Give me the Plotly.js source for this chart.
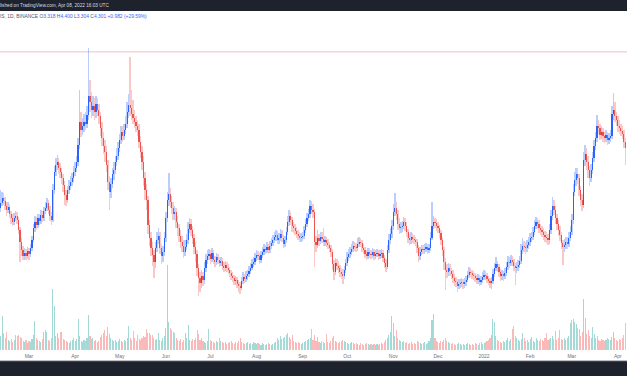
<!DOCTYPE html>
<html><head><meta charset="utf-8">
<script src="https://cdn.plot.ly/plotly-3.0.1.min.js"></script>
<style>html,body{margin:0;padding:0;background:#fff;overflow:hidden}#chart{width:627px;height:376px}</style>
</head><body><div id="chart"></div>
<script>
const startDate = '2021-02-10';
const openPrices = [
2.74,2.79,2.84,2.81,2.76,2.72,2.75,2.68,2.64,2.60,
2.64,2.66,2.62,2.52,2.40,2.32,2.26,2.29,2.26,2.31,
2.28,2.34,2.42,2.54,2.60,2.57,2.64,2.61,2.67,2.64,
2.71,2.74,2.79,2.72,2.66,2.62,2.92,3.10,3.17,3.20,
3.14,3.10,3.04,2.97,2.87,2.82,2.92,2.96,3.00,3.04,
3.10,3.14,3.20,3.37,3.60,3.52,3.56,3.60,3.58,3.67,
3.86,3.80,3.72,3.76,3.70,3.78,3.72,3.66,3.54,3.44,
3.36,3.30,3.17,3.00,2.90,2.98,3.08,3.12,3.20,3.26,
3.34,3.42,3.50,3.46,3.52,3.58,3.70,3.77,3.74,3.68,
3.64,3.60,3.56,3.52,3.40,3.30,3.20,3.04,2.92,2.82,
2.57,2.44,2.34,2.27,2.20,2.34,2.42,2.46,2.34,2.26,
2.30,2.44,2.64,2.82,2.88,2.80,2.74,2.68,2.70,2.60,
2.54,2.46,2.40,2.36,2.30,2.35,2.42,2.53,2.58,2.52,
2.44,2.35,2.28,2.14,2.04,1.99,2.06,2.02,2.14,2.22,
2.26,2.28,2.23,2.29,2.22,2.20,2.25,2.22,2.19,2.21,
2.16,2.14,2.17,2.14,2.12,2.09,2.06,2.04,2.01,2.02,
1.98,1.96,1.94,2.01,2.05,2.03,2.06,2.08,2.11,2.14,
2.18,2.20,2.24,2.27,2.26,2.22,2.27,2.30,2.33,2.32,
2.35,2.32,2.36,2.39,2.42,2.45,2.47,2.42,2.44,2.48,
2.44,2.38,2.42,2.50,2.60,2.66,2.62,2.56,2.54,2.51,
2.48,2.46,2.44,2.45,2.46,2.52,2.58,2.64,2.68,2.76,
2.72,2.70,2.40,2.37,2.44,2.41,2.45,2.43,2.40,2.42,
2.39,2.37,2.34,2.30,2.18,2.10,2.19,2.16,2.14,2.10,
2.08,2.06,2.12,2.19,2.25,2.28,2.30,2.33,2.36,2.35,
2.34,2.38,2.40,2.39,2.34,2.32,2.28,2.26,2.30,2.28,
2.27,2.30,2.26,2.28,2.29,2.26,2.28,2.29,2.24,2.19,
2.15,2.32,2.42,2.48,2.56,2.70,2.74,2.68,2.58,2.54,
2.55,2.56,2.60,2.56,2.50,2.44,2.42,2.45,2.43,2.42,
2.40,2.34,2.26,2.30,2.33,2.32,2.33,2.35,2.32,2.34,
2.44,2.56,2.60,2.59,2.56,2.54,2.49,2.42,2.32,2.20,
2.12,2.10,2.14,2.11,2.08,2.04,2.01,2.00,1.96,1.98,
1.99,2.00,1.98,2.00,2.02,2.07,2.10,2.09,2.07,2.06,
2.04,2.02,2.04,2.00,2.02,2.05,2.07,2.06,2.03,2.01,
1.99,2.01,2.08,2.14,2.18,2.15,2.10,2.06,2.08,2.06,
2.09,2.15,2.20,2.19,2.22,2.20,2.16,2.14,2.15,2.17,
2.21,2.32,2.36,2.35,2.34,2.37,2.40,2.44,2.45,2.50,
2.56,2.60,2.58,2.54,2.52,2.50,2.47,2.45,2.44,2.42,
2.52,2.66,2.76,2.72,2.64,2.58,2.52,2.47,2.39,2.35,
2.37,2.40,2.38,2.44,2.50,2.62,2.90,3.02,3.08,3.04,
2.92,2.82,2.77,3.22,3.28,3.20,3.12,3.04,3.12,3.24,
3.36,3.44,3.56,3.54,3.47,3.50,3.46,3.44,3.47,3.42,
3.44,3.46,3.68,3.72,3.66,3.62,3.56,3.54,3.51,3.48,3.40];
const highPrices = [
2.92,2.90,2.89,2.85,2.80,2.80,2.78,2.71,2.68,2.69,
2.71,2.70,2.65,2.55,2.44,2.36,2.34,2.33,2.35,2.34,
2.38,2.46,2.58,2.66,2.65,2.68,2.68,2.72,2.71,2.75,
2.80,2.84,2.82,2.76,2.70,2.98,3.16,3.24,3.27,3.24,
3.19,3.14,3.08,3.01,2.92,2.96,3.02,3.06,3.09,3.16,
3.20,3.26,3.44,3.92,3.70,3.64,3.68,3.70,3.76,4.34,
4.02,3.90,3.86,3.84,3.86,3.84,3.78,3.70,3.60,3.50,
3.42,3.36,3.22,3.06,3.04,3.14,3.20,3.26,3.34,3.40,
3.48,3.56,3.56,3.58,3.66,3.80,3.88,4.25,3.92,3.82,
3.72,3.66,3.62,3.58,3.46,3.36,3.26,3.10,2.98,2.86,
2.62,2.50,2.40,2.32,2.40,2.50,2.54,2.50,2.38,2.36,
2.50,2.70,2.90,3.09,2.94,2.86,2.80,2.76,2.74,2.66,
2.58,2.52,2.46,2.42,2.42,2.48,2.60,2.64,2.63,2.56,
2.48,2.40,2.32,2.18,2.10,2.12,2.10,2.20,2.28,2.32,
2.33,2.32,2.34,2.32,2.26,2.29,2.28,2.25,2.25,2.24,
2.20,2.21,2.20,2.18,2.15,2.12,2.10,2.07,2.06,2.05,
2.02,2.00,2.05,2.10,2.08,2.11,2.12,2.16,2.19,2.23,
2.25,2.29,2.32,2.31,2.29,2.31,2.35,2.38,2.37,2.40,
2.38,2.41,2.44,2.47,2.50,2.52,2.51,2.49,2.53,2.52,
2.47,2.46,2.55,2.66,2.72,2.70,2.65,2.60,2.58,2.55,
2.52,2.50,2.49,2.50,2.56,2.63,2.69,2.73,2.82,2.81,
2.78,2.73,2.46,2.52,2.48,2.50,2.50,2.54,2.46,2.45,
2.43,2.40,2.37,2.33,2.22,2.24,2.23,2.21,2.17,2.14,
2.13,2.16,2.23,2.30,2.33,2.35,2.38,2.41,2.40,2.39,
2.44,2.45,2.44,2.42,2.38,2.35,2.32,2.34,2.34,2.32,
2.34,2.33,2.32,2.33,2.32,2.32,2.33,2.32,2.27,2.23,
2.37,2.48,2.54,2.62,2.78,2.89,2.80,2.72,2.64,2.60,
2.61,2.65,2.64,2.60,2.53,2.48,2.50,2.49,2.47,2.45,
2.43,2.37,2.35,2.37,2.37,2.38,2.39,2.38,2.38,2.50,
2.80,2.66,2.64,2.63,2.60,2.57,2.52,2.45,2.35,2.24,
2.18,2.19,2.18,2.14,2.12,2.08,2.05,2.03,2.03,2.03,
2.04,2.03,2.04,2.06,2.11,2.15,2.14,2.12,2.11,2.09,
2.07,2.08,2.07,2.06,2.10,2.12,2.11,2.09,2.06,2.04,
2.05,2.13,2.19,2.25,2.21,2.18,2.13,2.12,2.11,2.14,
2.20,2.26,2.25,2.27,2.26,2.23,2.19,2.20,2.22,2.26,
2.38,2.44,2.41,2.40,2.42,2.45,2.49,2.50,2.55,2.62,
2.65,2.64,2.62,2.58,2.56,2.54,2.51,2.50,2.48,2.58,
2.72,2.85,2.82,2.76,2.68,2.62,2.56,2.50,2.42,2.43,
2.45,2.45,2.50,2.56,2.68,2.98,3.10,3.14,3.14,3.08,
2.96,2.88,3.30,3.37,3.34,3.26,3.16,3.18,3.30,3.42,
3.50,3.67,3.62,3.58,3.56,3.54,3.50,3.52,3.50,3.49,
3.52,3.76,3.89,3.80,3.70,3.66,3.62,3.58,3.56,3.52,3.44];
const lowPrices = [
2.70,2.76,2.77,2.72,2.66,2.69,2.64,2.58,2.56,2.57,
2.61,2.58,2.48,2.20,2.26,2.22,2.22,2.22,2.23,2.22,
2.25,2.31,2.40,2.50,2.52,2.54,2.57,2.58,2.60,2.61,
2.68,2.71,2.68,2.61,2.57,2.60,2.88,3.06,3.12,3.08,
3.04,2.98,2.90,2.77,2.76,2.79,2.88,2.92,2.96,3.00,
3.06,3.10,3.16,3.33,3.45,3.47,3.50,3.52,3.54,3.62,
3.70,3.64,3.66,3.62,3.64,3.66,3.58,3.46,3.36,3.28,
3.20,3.10,2.92,2.72,2.84,2.94,3.02,3.08,3.16,3.22,
3.30,3.38,3.40,3.42,3.48,3.54,3.64,3.66,3.62,3.58,
3.54,3.50,3.46,3.34,3.24,3.12,2.96,2.82,2.72,2.48,
2.36,2.26,2.16,2.04,2.14,2.30,2.38,2.28,2.18,2.20,
2.26,2.40,2.60,2.76,2.74,2.68,2.62,2.62,2.54,2.46,
2.40,2.34,2.30,2.24,2.26,2.32,2.38,2.49,2.46,2.38,
2.28,2.20,2.06,1.86,1.90,1.94,1.96,1.98,2.10,2.18,
2.22,2.18,2.20,2.18,2.15,2.17,2.18,2.15,2.16,2.12,
2.10,2.11,2.10,2.08,2.05,2.02,2.00,1.97,1.97,1.94,
1.90,1.88,1.92,1.98,1.99,2.00,2.02,2.05,2.08,2.12,
2.15,2.17,2.21,2.22,2.18,2.19,2.24,2.27,2.28,2.29,
2.28,2.29,2.33,2.36,2.39,2.41,2.38,2.38,2.41,2.40,
2.34,2.35,2.39,2.47,2.56,2.57,2.50,2.49,2.47,2.44,
2.42,2.40,2.40,2.41,2.43,2.49,2.55,2.61,2.64,2.68,
2.64,2.15,2.30,2.34,2.36,2.38,2.39,2.36,2.36,2.35,
2.33,2.30,2.25,2.12,2.02,2.07,2.12,2.09,2.05,2.03,
1.98,2.03,2.09,2.16,2.21,2.24,2.27,2.30,2.31,2.30,
2.31,2.35,2.35,2.30,2.28,2.24,2.22,2.23,2.24,2.23,
2.24,2.22,2.23,2.25,2.22,2.23,2.24,2.20,2.14,2.10,
2.13,2.29,2.38,2.44,2.52,2.66,2.62,2.52,2.48,2.49,
2.50,2.53,2.51,2.45,2.39,2.37,2.38,2.39,2.38,2.36,
2.29,2.20,2.22,2.27,2.28,2.28,2.30,2.28,2.29,2.31,
2.42,2.53,2.54,2.51,2.49,2.44,2.37,2.26,2.12,1.92,
2.04,2.06,2.06,2.03,1.99,1.96,1.95,1.90,1.93,1.94,
1.95,1.93,1.94,1.96,2.00,2.04,2.05,2.03,2.02,2.00,
1.98,1.98,1.96,1.97,1.99,2.02,2.02,1.99,1.97,1.94,
1.93,1.98,2.05,2.11,2.10,2.05,2.01,2.02,2.01,2.03,
2.06,2.12,2.14,2.16,2.16,2.11,1.97,2.09,2.11,2.14,
2.18,2.28,2.30,2.28,2.30,2.33,2.36,2.40,2.42,2.47,
2.53,2.53,2.49,2.47,2.45,2.42,2.40,2.39,2.37,2.38,
2.48,2.62,2.67,2.58,2.52,2.46,2.41,2.33,2.17,2.30,
2.33,2.33,2.35,2.41,2.47,2.58,2.86,2.96,2.98,2.86,
2.76,2.71,2.74,3.16,3.12,3.04,2.96,3.00,3.08,3.20,
3.32,3.40,3.48,3.42,3.43,3.40,3.39,3.40,3.37,3.38,
3.40,3.43,3.62,3.60,3.56,3.50,3.48,3.46,3.43,3.34,3.17];
const closePrices = [
2.79,2.84,2.81,2.76,2.72,2.75,2.68,2.64,2.60,2.64,
2.66,2.62,2.52,2.40,2.32,2.26,2.29,2.26,2.31,2.28,
2.34,2.42,2.54,2.60,2.57,2.64,2.61,2.67,2.64,2.71,
2.74,2.79,2.72,2.66,2.62,2.92,3.10,3.17,3.20,3.14,
3.10,3.04,2.97,2.87,2.82,2.92,2.96,3.00,3.04,3.10,
3.14,3.20,3.37,3.60,3.52,3.56,3.60,3.58,3.67,3.86,
3.80,3.72,3.76,3.70,3.78,3.72,3.66,3.54,3.44,3.36,
3.30,3.17,3.00,2.90,2.98,3.08,3.12,3.20,3.26,3.34,
3.42,3.50,3.46,3.52,3.58,3.70,3.77,3.74,3.68,3.64,
3.60,3.56,3.52,3.40,3.30,3.20,3.04,2.92,2.82,2.57,
2.44,2.34,2.27,2.20,2.34,2.42,2.46,2.34,2.26,2.30,
2.44,2.64,2.82,2.88,2.80,2.74,2.68,2.70,2.60,2.54,
2.46,2.40,2.36,2.30,2.35,2.42,2.53,2.58,2.52,2.44,
2.35,2.28,2.14,2.04,1.99,2.06,2.02,2.14,2.22,2.26,
2.28,2.23,2.29,2.22,2.20,2.25,2.22,2.19,2.21,2.16,
2.14,2.17,2.14,2.12,2.09,2.06,2.04,2.01,2.02,1.98,
1.96,1.94,2.01,2.05,2.03,2.06,2.08,2.11,2.14,2.18,
2.20,2.24,2.27,2.26,2.22,2.27,2.30,2.33,2.32,2.35,
2.32,2.36,2.39,2.42,2.45,2.47,2.42,2.44,2.48,2.44,
2.38,2.42,2.50,2.60,2.66,2.62,2.56,2.54,2.51,2.48,
2.46,2.44,2.45,2.46,2.52,2.58,2.64,2.68,2.76,2.72,
2.70,2.40,2.37,2.44,2.41,2.45,2.43,2.40,2.42,2.39,
2.37,2.34,2.30,2.18,2.10,2.19,2.16,2.14,2.10,2.08,
2.06,2.12,2.19,2.25,2.28,2.30,2.33,2.36,2.35,2.34,
2.38,2.40,2.39,2.34,2.32,2.28,2.26,2.30,2.28,2.27,
2.30,2.26,2.28,2.29,2.26,2.28,2.29,2.24,2.19,2.15,
2.32,2.42,2.48,2.56,2.70,2.74,2.68,2.58,2.54,2.55,
2.56,2.60,2.56,2.50,2.44,2.42,2.45,2.43,2.42,2.40,
2.34,2.26,2.30,2.33,2.32,2.33,2.35,2.32,2.34,2.44,
2.56,2.60,2.59,2.56,2.54,2.49,2.42,2.32,2.20,2.12,
2.10,2.14,2.11,2.08,2.04,2.01,2.00,1.96,1.98,1.99,
2.00,1.98,2.00,2.02,2.07,2.10,2.09,2.07,2.06,2.04,
2.02,2.04,2.00,2.02,2.05,2.07,2.06,2.03,2.01,1.99,
2.01,2.08,2.14,2.18,2.15,2.10,2.06,2.08,2.06,2.09,
2.15,2.20,2.19,2.22,2.20,2.16,2.14,2.15,2.17,2.21,
2.32,2.36,2.35,2.34,2.37,2.40,2.44,2.45,2.50,2.56,
2.60,2.58,2.54,2.52,2.50,2.47,2.45,2.44,2.42,2.52,
2.66,2.76,2.72,2.64,2.58,2.52,2.47,2.39,2.35,2.37,
2.40,2.38,2.44,2.50,2.62,2.90,3.02,3.08,3.04,2.92,
2.82,2.77,3.22,3.28,3.20,3.12,3.04,3.12,3.24,3.36,
3.44,3.56,3.54,3.47,3.50,3.46,3.44,3.47,3.42,3.44,
3.46,3.68,3.72,3.66,3.62,3.56,3.54,3.51,3.48,3.40,3.34];
const volumes = [
14,34,17,12,18,10,9,11,8,10,
15,14,15,13,12,9,8,10,7,9,
8,11,15,29,12,10,9,8,11,18,
20,18,10,9,12,61,44,14,17,12,
18,18,11,10,9,8,7,9,10,12,
9,11,31,14,9,8,10,9,12,35,
14,11,12,9,10,8,9,13,15,17,
20,14,23,16,12,10,9,10,8,9,
11,9,8,10,9,12,24,12,10,19,
12,9,15,11,10,12,14,13,21,17,
17,15,15,12,10,11,17,10,9,12,
14,22,85,28,22,20,18,17,12,10,
9,11,8,10,17,12,25,10,9,11,
10,12,20,16,10,12,9,8,7,9,
21,10,9,8,7,9,8,12,9,8,
7,8,6,7,8,9,7,6,8,7,
9,12,8,7,6,7,8,6,7,6,
8,7,6,7,6,5,7,6,5,6,
7,6,5,6,7,8,12,10,14,11,
12,13,15,17,13,11,15,9,8,7,
8,7,6,7,8,9,10,11,12,21,
10,15,9,13,8,7,9,8,7,16,
8,7,9,12,14,9,8,7,8,9,
10,9,8,7,6,7,8,7,6,7,
6,5,7,6,5,6,7,6,5,6,
5,6,5,6,5,6,7,6,8,10,
12,15,18,34,27,14,20,12,10,9,
8,9,7,8,6,7,8,6,7,6,
9,8,7,6,7,8,6,7,9,12,
30,36,12,9,8,7,9,8,10,12,
9,8,7,6,7,6,5,6,7,6,
5,6,5,6,7,6,5,6,5,7,
6,5,7,8,6,7,8,9,10,12,
15,31,28,14,10,9,8,7,9,8,
10,12,9,11,21,24,14,12,10,9,
11,17,12,9,10,8,11,13,9,8,
12,10,9,11,10,9,12,17,10,11,
12,14,11,19,10,12,20,11,10,12,
10,12,14,27,30,31,28,26,22,21,
14,18,51,32,16,20,14,12,23,16,
12,14,10,9,11,10,9,10,12,11,
10,13,18,12,10,9,11,10,12,15,27];
const tickDates = ['2021-03-01','2021-04-01','2021-05-01','2021-06-01','2021-07-01','2021-08-01','2021-09-01','2021-10-01','2021-11-01','2021-12-01','2022-01-01','2022-02-01','2022-03-01','2022-04-01'];
const tickLabels = ['Mar','Apr','May','Jun','Jul','Aug','Sep','Oct','Nov','Dec','2022','Feb','Mar','Apr'];
const lastPrice = 4.301;
const headerSymbol = 'IS, 1D, BINANCE';
const headerValues = {O:'3.318', H:'4.400', L:'3.304', C:'4.301'};
const headerChange = '+0.982 (+29.59%)';
const publishedText = 'lished on TradingView.com, Apr 08, 2022 16:03 UTC';

const DAY = 86400000;
const t0 = new Date(startDate + 'T00:00:00Z').getTime();
const dates = openPrices.map((_, i) => new Date(t0 + i * DAY).toISOString().slice(0, 10));
const isUp = closePrices.map((c, i) => c >= openPrices[i]);

const UP = '#2962ff', DOWN = '#ef5350';
const UP_WICK = 'rgba(41,98,255,0.32)', DOWN_WICK = 'rgba(239,83,80,0.32)';
const UP_VOL = 'rgba(38,166,154,0.42)', DOWN_VOL = 'rgba(239,83,80,0.40)';
const FONT = 'Liberation Sans, Arial, sans-serif';

const volTrace = {
  type: 'bar', x: dates, y: volumes, width: 0.72 * DAY, yaxis: 'y',
  marker: {color: isUp.map(u => u ? UP_VOL : DOWN_VOL), line: {width: 0}},
  hoverinfo: 'skip'
};
const wickTrace = {
  type: 'bar', x: dates, base: lowPrices, y: highPrices.map((h, i) => h - lowPrices[i]),
  width: 1.0 * DAY, yaxis: 'y2',
  marker: {color: isUp.map(u => u ? UP_WICK : DOWN_WICK), line: {width: 0}},
  hoverinfo: 'skip'
};
const bodyTrace = {
  type: 'bar', x: dates,
  base: openPrices.map((o, i) => Math.min(o, closePrices[i])),
  y: openPrices.map((o, i) => Math.max(Math.abs(closePrices[i] - o), 0.006)),
  width: 0.8 * DAY, yaxis: 'y2',
  marker: {color: isUp.map(u => u ? UP : DOWN), line: {width: 0}},
  hoverinfo: 'skip'
};

const blue = s => `<span style="color:#3468f6">${s}</span>`;
const headerText = `${headerSymbol} O${blue(headerValues.O)} H${blue(headerValues.H)} L${blue(headerValues.L)} C${blue(headerValues.C)} ${blue(headerChange)}`;

const layout = {
  width: 627, height: 376,
  margin: {l: 0, r: 0, t: 12, b: 26, pad: 0},
  paper_bgcolor: '#ffffff', plot_bgcolor: '#ffffff',
  showlegend: false, barmode: 'overlay', bargap: 0,
  xaxis: {
    type: 'date', range: ['2021-02-09 12:06', '2022-04-07 03:20'],
    tickmode: 'array', tickvals: tickDates, ticktext: tickLabels,
    tickfont: {family: FONT, size: 5, color: '#6f727c'}, ticklabelstandoff: 2,
    showgrid: false, zeroline: false, showline: false, ticks: '', fixedrange: true
  },
  yaxis: {range: [0, 338], showticklabels: false, showgrid: false, zeroline: false, showline: false, ticks: '', fixedrange: true},
  yaxis2: {range: [1.32, 4.70], overlaying: 'y', anchor: 'x', side: 'right', showticklabels: false, showgrid: false, zeroline: false, showline: false, ticks: '', fixedrange: true},
  shapes: [
    {type: 'rect', xref: 'paper', yref: 'paper', x0: -0.01, x1: 1.01, y0: 1.003, y1: 1.1, fillcolor: '#1e222d', line: {width: 0}, layer: 'above'},
    {type: 'rect', xref: 'paper', yref: 'paper', x0: -0.01, x1: 1.01, y0: -0.0325, y1: -0.2, fillcolor: '#1e222d', line: {width: 0}, layer: 'above'},
    {type: 'line', xref: 'paper', yref: 'paper', x0: -0.01, x1: 1.01, y0: -0.0318, y1: -0.0318, line: {color: '#a9acb4', width: 1}, layer: 'above'},
    {type: 'line', xref: 'paper', yref: 'y2', x0: 0, x1: 1, y0: lastPrice, y1: lastPrice, line: {color: '#f6bcc6', width: 1}, layer: 'below'}
  ],
  annotations: [
    {xref: 'paper', yref: 'paper', x: 0, y: 1.0178, xanchor: 'left', yanchor: 'middle', xshift: -2,
     text: publishedText, showarrow: false, font: {family: FONT, size: 4.7, color: '#d9dbe2'}},
    {xref: 'paper', yref: 'paper', x: 0, y: 0.9867, xanchor: 'left', yanchor: 'middle', xshift: -2,
     text: headerText, showarrow: false, font: {family: FONT, size: 4.9, color: '#50535e'}}
  ]
};

Plotly.newPlot('chart', [volTrace, wickTrace, bodyTrace], layout, {staticPlot: true, displayModeBar: false});
</script>
</body></html>
